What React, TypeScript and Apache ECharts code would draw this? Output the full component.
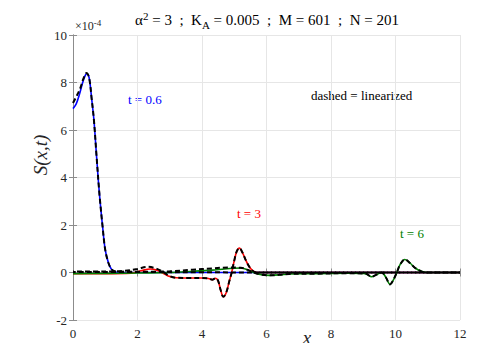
import React, { useEffect, useRef } from "react";
import * as echarts from "echarts";

// values in units of 1e-4
const blueT06: [number, number][] = [
  [0, 6.9], [0.1, 7.1], [0.2, 7.5], [0.3, 8.0], [0.38, 8.3], [0.43, 8.37], [0.5, 8.2],
  [0.58, 7.3], [0.65, 6.4], [0.73, 4.9], [0.82, 3.3], [0.92, 1.9], [1.0, 0.95],
  [1.1, 0.4], [1.2, 0.12], [1.3, 0.02], [1.5, 0.0], [3, 0.0], [5.5, 0.0], [12, 0.0],
];
const redT3: [number, number][] = [
  [0, -0.05], [1.0, -0.05], [1.8, -0.03], [2.1, 0.07], [2.4, 0.15], [2.6, 0.1],
  [2.75, 0.0], [2.95, -0.15], [3.2, -0.22], [3.6, -0.23], [4.0, -0.23], [4.2, -0.25],
  [4.32, -0.3], [4.42, -0.24], [4.5, -0.35], [4.58, -0.75], [4.66, -1.02], [4.75, -0.85],
  [4.85, -0.35], [4.92, 0.0], [5.0, 0.5], [5.08, 0.9], [5.16, 1.03], [5.25, 0.85],
  [5.4, 0.4], [5.55, 0.1], [5.7, 0.0], [6.5, 0.0], [12, 0.0],
];
const greenT6: [number, number][] = [
  [0, -0.05], [1.0, -0.04], [2.0, -0.02], [3.0, 0.0], [3.7, 0.05], [4.3, 0.1],
  [4.7, 0.15], [5.0, 0.18], [5.2, 0.19], [5.4, 0.12], [5.6, 0.0], [5.8, -0.08],
  [6.1, -0.12], [6.4, -0.1], [6.7, -0.06], [7.5, -0.05], [8.5, -0.03], [9.0, -0.04],
  [9.1, -0.06], [9.26, -0.18], [9.4, -0.1], [9.57, 0.0], [9.7, -0.2], [9.83, -0.5],
  [9.92, -0.35], [10.04, 0.0], [10.15, 0.35], [10.29, 0.55], [10.45, 0.4],
  [10.6, 0.2], [10.8, 0.05], [10.97, 0.0], [12, 0.0],
];
const linT06: [number, number][] = [
  [0, 7.14], [0.1, 7.4], [0.22, 7.74], [0.32, 8.15], [0.42, 8.4], [0.5, 8.2],
  [0.58, 7.3], [0.65, 6.4], [0.73, 4.9], [0.82, 3.3], [0.92, 1.9], [1.0, 0.95],
  [1.1, 0.4], [1.2, 0.13], [1.3, 0.05], [1.6, 0.03], [2.5, 0.02], [4, 0.01], [6, 0.0], [12, 0.0],
];
const linT3: [number, number][] = [
  [0, 0.04], [1.0, 0.04], [1.6, 0.07], [2.0, 0.15], [2.3, 0.24], [2.55, 0.18],
  [2.8, 0.02], [3.0, -0.15], [3.2, -0.22], [3.6, -0.23], [4.0, -0.23], [4.2, -0.25],
  [4.32, -0.3], [4.42, -0.24], [4.5, -0.35], [4.58, -0.75], [4.66, -1.02], [4.75, -0.85],
  [4.85, -0.35], [4.92, 0.0], [5.0, 0.5], [5.08, 0.9], [5.16, 1.03], [5.25, 0.85],
  [5.4, 0.4], [5.55, 0.1], [5.7, 0.0], [6.5, 0.0], [12, 0.0],
];
const linT6: [number, number][] = [
  [0, 0.02], [2.0, 0.03], [3.0, 0.05], [3.7, 0.12], [4.3, 0.17], [4.8, 0.21],
  [5.2, 0.2], [5.4, 0.12], [5.6, 0.0], [5.8, -0.08], [6.1, -0.12], [6.4, -0.1],
  [6.7, -0.06], [7.5, -0.05], [8.5, -0.03], [9.0, -0.04], [9.1, -0.06], [9.26, -0.18],
  [9.4, -0.1], [9.57, 0.0], [9.7, -0.2], [9.83, -0.5], [9.92, -0.35], [10.04, 0.0],
  [10.15, 0.35], [10.29, 0.55], [10.45, 0.4], [10.6, 0.2], [10.8, 0.05], [10.97, 0.0], [12, 0.0],
];

const xTicks = [0, 2, 4, 6, 8, 10, 12];
const yTicks = [-2, 0, 2, 4, 6, 8, 10];

const FONT = "'Liberation Serif', 'Times New Roman', 'DejaVu Serif', serif";
const TXT = "#262626";
const AXIS = "#8c8c8c";
const F = { fontFamily: FONT, fontWeight: "normal", fontStyle: "normal" };

export default function App() {
  const ref = useRef<HTMLDivElement>(null);
  useEffect(() => {
    if (!ref.current) return;
    const chart = echarts.init(ref.current, undefined, { renderer: "svg" });
    const solid = (name: string, data: [number, number][], color: string) => ({
      type: "line", name, data, smooth: 0.35, symbol: "none", z: 2,
      lineStyle: { color, width: 1.6 },
    });
    const dashed = (name: string, data: [number, number][], offset: number) => ({
      type: "line", name, data, smooth: 0.35, symbol: "none", z: 3,
      lineStyle: { color: "#000", width: 2, type: [5, 3], dashOffset: offset },
    });
    chart.setOption({
      animation: false,
      backgroundColor: "#fff",
      textStyle: { ...F },
      title: {
        left: 262, top: 5, textAlign: "center",
        text: "{a|α}{sup|2}{a| = 3  ;  K}{sub|A}{a| = 0.005  ;  M = 601  ;  N = 201}",
        textStyle: {
          fontWeight: "normal",
          rich: {
            a: { ...F, fontSize: 15, color: "#000", lineHeight: 19 },
            sup: { ...F, fontSize: 11, color: "#000", padding: [0, 0, 9, 0] },
            sub: { ...F, fontSize: 11, color: "#000", padding: [9, 0, 0, 0] },
          },
        },
      },
      grid: { left: 73, right: 38, top: 35, bottom: 31, outerBoundsMode: "none", containLabel: false },
      xAxis: [
        {
          type: "value", min: 0, max: 12, interval: 2,
          axisLine: { lineStyle: { color: AXIS, width: 1 } },
          axisTick: { inside: true, length: 4, lineStyle: { color: AXIS } },
          axisLabel: { ...F, fontSize: 13, color: TXT, margin: 7,
            formatter: (v: number) => (xTicks.includes(v) ? String(v) : "") },
          splitLine: { show: true, lineStyle: { color: "#e6e6e6", width: 1 } },
        },
        {
          type: "value", min: 0, max: 12, interval: 2, position: "top",
          axisLine: { show: true, lineStyle: { color: AXIS, width: 1 } },
          axisTick: { inside: true, length: 4, lineStyle: { color: AXIS } },
          axisLabel: { show: false }, splitLine: { show: false },
        },
      ],
      yAxis: [
        {
          type: "value", min: -2, max: 10, interval: 2,
          axisLine: { show: true, lineStyle: { color: AXIS, width: 1 } },
          axisTick: { show: true, inside: true, length: 4, lineStyle: { color: AXIS } },
          axisLabel: { ...F, fontSize: 13, color: TXT, margin: 6,
            formatter: (v: number) => (yTicks.includes(v) ? String(v) : "") },
          splitLine: { show: true, lineStyle: { color: "#e6e6e6", width: 1 } },
        },
        {
          type: "value", min: -2, max: 10, interval: 2, position: "right",
          axisLine: { show: true, lineStyle: { color: AXIS, width: 1 } },
          axisTick: { show: true, inside: true, length: 4, lineStyle: { color: AXIS } },
          axisLabel: { show: false }, splitLine: { show: false },
        },
      ],
      graphic: [
        {
          type: "text", left: 75, top: 18,
          style: {
            text: "{a|×10}{sup|-4}",
            ...F,
            rich: {
              a: { ...F, fontSize: 12, fill: TXT },
              sup: { ...F, fontSize: 9, fill: TXT, padding: [0, 0, 7, 0] },
            },
          },
        },
        {
          type: "text", x: 307, y: 337,
          style: { text: "x", fontFamily: FONT, fontStyle: "italic", fontSize: 19, fill: TXT, align: "center", verticalAlign: "middle" },
        },
        {
          type: "text", x: 40, y: 155, rotation: Math.PI / 2,
          style: { text: "S(x,t)", fontFamily: FONT, fontStyle: "italic", fontSize: 19, fill: TXT, align: "center", verticalAlign: "middle" },
        },
        { type: "text", left: 128, top: 93, style: { text: "t = 0.6", ...F, fontSize: 13, fill: "#0000ff" } },
        { type: "text", left: 311, top: 89, style: { text: "dashed = linearized", ...F, fontSize: 13, fill: "#000" } },
        { type: "text", left: 237, top: 207, style: { text: "t = 3", ...F, fontSize: 13, fill: "#ff0000" } },
        { type: "text", left: 400, top: 227, style: { text: "t = 6", ...F, fontSize: 13, fill: "#008000" } },
      ],
      series: [
        solid("t = 0.6", blueT06, "#0000ff"),
        solid("t = 3", redT3, "#ff0000"),
        solid("t = 6", greenT6, "#008000"),
        dashed("linearized t = 0.6", linT06, 0),
        dashed("linearized t = 3", linT3, 4),
        dashed("linearized t = 6", linT6, 2),
      ],
    });
    return () => chart.dispose();
  }, []);
  return <div ref={ref} style={{ width: 498, height: 351, margin: -8 }} />;
}
